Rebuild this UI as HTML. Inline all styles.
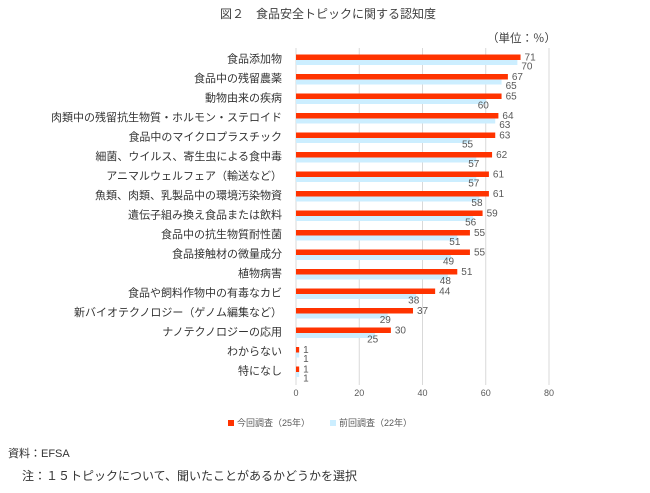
<!DOCTYPE html>
<html><head><meta charset="utf-8"><style>
body{margin:0;background:#fff;width:650px;height:488px;overflow:hidden;font-family:"Liberation Sans","Noto Sans CJK JP",sans-serif;}
svg text{font-family:"Liberation Sans","Noto Sans CJK JP",sans-serif;}
</style></head><body>
<svg id="c" width="650" height="488">
<text x="328" y="18" text-anchor="middle" font-size="12" fill="#404040">図２　食品安全トピックに関する認知度</text>
<text x="556" y="42" text-anchor="end" font-size="11.5" fill="#404040">（単位：％）</text>
<g id="grid"></g><g id="bars"></g><g id="labels"></g><g id="ticks"></g>
<g>
<rect x="228" y="420" width="6" height="6" fill="#ff3300"/>
<text x="237" y="426" font-size="9" fill="#595959">今回調査（25年）</text>
<rect x="330" y="420" width="6" height="6" fill="#cceeff"/>
<text x="339" y="426" font-size="9" fill="#595959">前回調査（22年）</text>
</g>
<text x="8" y="457" font-size="11" fill="#333">資料：EFSA</text>
<text x="22" y="480" font-size="12" fill="#333">注：１５トピックについて、聞いたことがあるかどうかを選択</text>
</svg>
<script>
const categories=["食品添加物","食品中の残留農薬","動物由来の疾病","肉類中の残留抗生物質・ホルモン・ステロイド","食品中のマイクロプラスチック","細菌、ウイルス、寄生虫による食中毒","アニマルウェルフェア（輸送など）","魚類、肉類、乳製品中の環境汚染物資","遺伝子組み換え食品または飲料","食品中の抗生物質耐性菌","食品接触材の微量成分","植物病害","食品や飼料作物中の有毒なカビ","新バイオテクノロジー（ゲノム編集など）","ナノテクノロジーの応用","わからない","特になし"];
const current=[71,67,65,64,63,62,61,61,59,55,55,51,44,37,30,1,1];
const previous=[70,65,60,63,55,57,57,58,56,51,49,48,38,29,25,1,1];
const ticks=[0,20,40,60,80];
const NS="http://www.w3.org/2000/svg";
const x0=296,x1=549,max=80,top0=49.5,band=19.5;
const X=v=>x0+(x1-x0)*v/max;
const Y=i=>top0+band*i;
function mk(tag,attrs,parent){const e=document.createElementNS(NS,tag);for(const k in attrs)e.setAttribute(k,attrs[k]);parent.appendChild(e);return e;}
const g=document.getElementById('grid'),b=document.getElementById('bars'),l=document.getElementById('labels'),t=document.getElementById('ticks');
ticks.forEach(v=>{
 const ln=mk('line',{x1:X(v),x2:X(v),y1:48,y2:385,stroke:'#d9d9d9','stroke-width':1},g);
 
 
 const tx=mk('text',{x:X(v),y:396,'text-anchor':'middle','font-size':9,fill:'#595959'},t);
 tx.textContent=v;
 
 
});
categories.forEach((c,i)=>{
 const y=Y(i);
 const lab=mk('text',{x:282,y:y+13,'text-anchor':'end','font-size':11,fill:'#333'},l);
 lab.textContent=c;
 
 
 const r1=mk('rect',{x:x0,y:y+5,width:X(current[i])-x0,height:5.5,fill:'#ff3300'},b);
 
 
 const r2=mk('rect',{x:x0,y:y+10.5,width:X(previous[i])-x0,height:5,fill:'#cceeff'},b);
 
 
 const v1=mk('text',{x:X(current[i])+4,y:y+11,'font-size':10,fill:'#595959'},l);
 v1.textContent=current[i];
 
 
 const v2=mk('text',{x:X(previous[i])+(current[i]-previous[i]<3?4:-8),y:y+20,'font-size':10,fill:'#595959'},l);
 v2.textContent=previous[i];
 
 
});
</script>
</body></html>
